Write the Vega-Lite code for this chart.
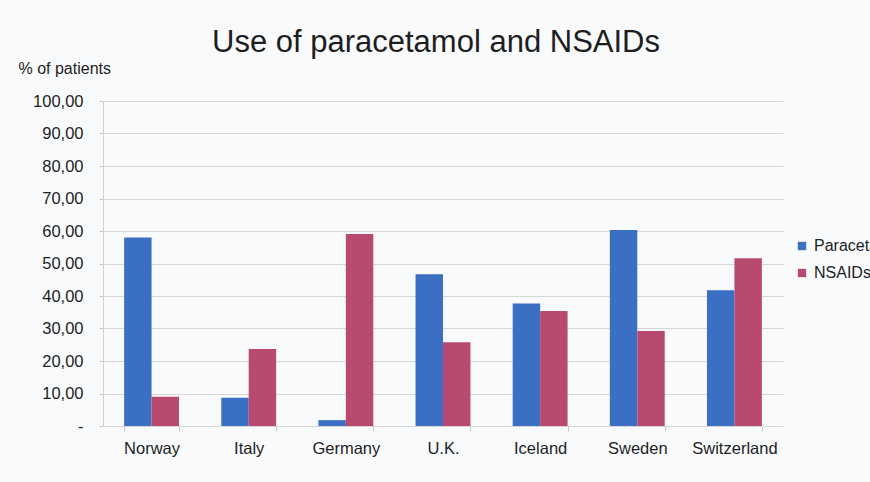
{
  "$schema": "https://vega.github.io/schema/vega-lite/v6.json",
  "width": 680,
  "height": 325,
  "autosize": {"type": "none"},
  "padding": {"left": 103, "top": 101, "right": 87, "bottom": 56},
  "background": "#f8fafc",
  "config": {
    "font": "Liberation Sans",
    "view": {"stroke": null},
    "axis": {"labelColor": "#1e1e1e", "titleColor": "#1e1e1e"}
  },
  "title": {
    "text": "Use of paracetamol and NSAIDs",
    "fontSize": 31,
    "fontWeight": "normal",
    "color": "#1e1e1e",
    "anchor": "middle",
    "dx": -7,
    "offset": 1
  },
  "data": {
    "values": [
      {"country": "Norway", "drug": "Paracetamol", "pct": 58.0},
      {"country": "Norway", "drug": "NSAIDs", "pct": 9.0},
      {"country": "Italy", "drug": "Paracetamol", "pct": 8.7},
      {"country": "Italy", "drug": "NSAIDs", "pct": 23.7},
      {"country": "Germany", "drug": "Paracetamol", "pct": 1.8},
      {"country": "Germany", "drug": "NSAIDs", "pct": 59.1},
      {"country": "U.K.", "drug": "Paracetamol", "pct": 46.7},
      {"country": "U.K.", "drug": "NSAIDs", "pct": 25.8},
      {"country": "Iceland", "drug": "Paracetamol", "pct": 37.7},
      {"country": "Iceland", "drug": "NSAIDs", "pct": 35.4},
      {"country": "Sweden", "drug": "Paracetamol", "pct": 60.3},
      {"country": "Sweden", "drug": "NSAIDs", "pct": 29.2},
      {"country": "Switzerland", "drug": "Paracetamol", "pct": 41.8},
      {"country": "Switzerland", "drug": "NSAIDs", "pct": 51.6}
    ]
  },
  "mark": {"type": "bar"},
  "encoding": {
    "x": {
      "field": "country",
      "type": "nominal",
      "sort": null,
      "scale": {"paddingInner": 0.435, "paddingOuter": 0.2175},
      "axis": {
        "title": null,
        "labelAngle": 0,
        "labelFontSize": 16.5,
        "labelPadding": 9,
        "domain": false,
        "ticks": true,
        "tickBand": "extent",
        "tickColor": "#c8c8c8",
        "tickSize": 5,
        "grid": false
      }
    },
    "xOffset": {
      "field": "drug",
      "type": "nominal",
      "sort": ["Paracetamol", "NSAIDs"],
      "scale": {"paddingInner": 0, "paddingOuter": 0}
    },
    "y": {
      "field": "pct",
      "type": "quantitative",
      "scale": {"domain": [0, 100], "nice": false},
      "axis": {
        "values": [0, 10, 20, 30, 40, 50, 60, 70, 80, 90, 100],
        "labelExpr": "datum.value == 0 ? '-' : replace(format(datum.value, '.2f'), '.', ',')",
        "labelFontSize": 16.5,
        "labelPadding": 16,
        "ticks": true,
        "tickSize": 4,
        "tickColor": "#c8c8c8",
        "domain": true,
        "domainColor": "#d0d0d0",
        "gridColor": "#d6d6d6",
        "title": "% of patients",
        "titleFontSize": 16,
        "titleFontWeight": "normal",
        "titleAngle": 0,
        "titleAlign": "left",
        "titleBaseline": "middle",
        "titleX": -85,
        "titleY": -33
      }
    },
    "color": {
      "field": "drug",
      "type": "nominal",
      "scale": {"domain": ["Paracetamol", "NSAIDs"], "range": ["#3b6fc4", "#b84a72"]},
      "legend": {
        "title": null,
        "orient": "none",
        "legendX": 691,
        "legendY": 137,
        "symbolType": "square",
        "symbolSize": 70,
        "symbolStrokeWidth": 0,
        "labelFontSize": 16,
        "labelColor": "#1e1e1e",
        "labelOffset": 4,
        "rowPadding": 11
      }
    }
  }
}
